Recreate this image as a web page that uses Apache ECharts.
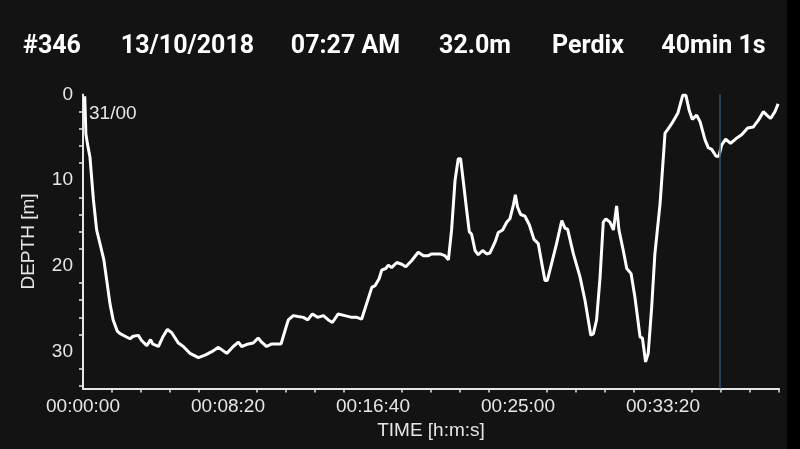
<!DOCTYPE html>
<html>
<head>
<meta charset="utf-8">
<script src="https://cdn.jsdelivr.net/npm/echarts@6/dist/echarts.min.js"></script>
<style>
html,body{margin:0;padding:0;background:#131313;}
#c{width:800px;height:449px;}
</style>
</head>
<body>
<div id="c"></div>
<script>
// ---- data ----
var headerTexts = ['#346', '13/10/2018', '07:27 AM', '32.0m', 'Perdix', '40min 1s'];
var markerText = '31/00';
var cursorTime = 2194;
var timeSec = [6,10,15,24,36,47,60,72,93,104,118,128,145,162,173,191,202,220,233,240,260,275,291,306,329,346,369,398,421,444,467,496,518,536,547,570,587,604,616,633,651,668,683,697,708,725,742,760,775,791,809,829,846,860,880,903,927,944,961,978,996,1007,1021,1030,1044,1053,1064,1082,1099,1113,1133,1156,1174,1191,1202,1214,1231,1248,1260,1271,1283,1294,1302,1311,1323,1332,1340,1352,1363,1378,1392,1403,1421,1432,1447,1461,1472,1484,1491,1498,1509,1524,1539,1555,1570,1582,1593,1601,1616,1633,1651,1662,1671,1691,1714,1731,1751,1760,1771,1783,1794,1803,1817,1829,1840,1848,1863,1875,1890,1903,1921,1929,1940,1949,1961,1972,1990,2007,2016,2030,2051,2068,2079,2090,2101,2116,2128,2145,2156,2168,2183,2193,2202,2216,2233,2250,2271,2292,2311,2329,2346,2358,2371,2386,2397];
var depthM = [0.2,4.6,5.7,7.3,12.3,15.8,17.6,19.3,24.4,26.3,27.6,27.9,28.2,28.5,28.2,28.1,28.7,29.3,28.6,29.1,29.4,28.3,27.4,27.8,29.0,29.4,30.2,30.7,30.4,30.0,29.5,30.2,29.4,28.9,29.4,29.1,29.0,28.4,28.9,29.4,29.1,29.1,29.1,27.5,26.3,25.8,25.9,26.0,26.3,25.6,26.0,25.8,26.3,26.6,25.6,25.8,26.0,26.0,26.2,24.4,22.5,22.3,21.5,20.5,20.3,19.9,20.2,19.6,19.8,20.1,19.4,18.4,18.8,18.8,18.6,18.6,18.6,18.8,19.3,15.8,10.0,7.5,7.5,10.0,13.5,16.0,16.3,18.2,18.7,18.2,18.6,18.5,17.2,16.1,15.8,14.9,14.5,12.9,11.7,13.1,14.0,14.2,15.2,16.9,17.4,19.7,21.7,21.7,19.7,17.4,14.7,15.6,15.7,18.6,21.3,24.0,28.1,27.9,26.3,21.3,14.9,14.5,14.9,15.8,13.0,15.8,18.2,20.3,20.9,23.6,28.3,28.4,31.2,30.2,24.8,18.6,12.7,4.5,4.1,3.4,2.2,0.1,0.1,1.8,2.9,2.4,3.2,5.3,6.2,6.4,7.2,7.2,5.9,5.2,5.7,5.2,4.7,3.9,3.8,3.0,2.0,2.4,2.8,2.0,1.1];
var xLabelValues = [0, 500, 1000, 1500, 2000];
var xTickValues = [100,200,300,400,600,700,800,900,1100,1200,1300,1400,1600,1700,1800,1900,2100,2200,2300,2400];
var yLabelValues = [0, 10, 20, 30];
var yTickValues = [2,4,6,8,12,14,16,18,22,24,26,28,32,34];

// ---- layout ----
var headerCenters = [52, 187.5, 345.5, 475, 588, 713.5];
var axisColor = '#e6e6e6';
var labelFont = 'Liberation Sans, Arial, sans-serif';

function pad(n){ return (n < 10 ? '0' : '') + n; }
function hms(v){
  v = Math.round(v);
  var h = Math.floor(v / 3600), m = Math.floor((v % 3600) / 60), s = v % 60;
  return pad(h) + ':' + pad(m) + ':' + pad(s);
}

var graphics = headerTexts.map(function(t, i){
  return {
    type: 'text', x: headerCenters[i], y: 46.5, silent: true,
    style: { text: t, fill: '#ffffff', font: 'bold 25px Roboto, sans-serif', textAlign: 'center', textVerticalAlign: 'middle' }
  };
});
graphics.push({
  type: 'text', x: 89, y: 113.5, silent: true,
  style: { text: markerText, fill: axisColor, font: '19px ' + labelFont, textAlign: 'left', textVerticalAlign: 'middle' }
});
graphics.push({
  type: 'rect', shape: { x: 787, y: 0, width: 13, height: 449 }, silent: true, z: 100,
  style: { fill: '#000000' }
});

var chart = echarts.init(document.getElementById('c'), null, { renderer: 'canvas' });
chart.setOption({
  backgroundColor: '#131313',
  animation: false,
  grid: { left: 83, right: 21, top: 94.5, bottom: 60.5 },
  xAxis: {
    type: 'value', min: 0, max: 2400, interval: 100,
    name: 'TIME [h:m:s]', nameLocation: 'middle', nameGap: 33,
    nameTextStyle: { color: axisColor, fontSize: 19, fontFamily: labelFont },
    axisLine: { show: true, onZero: false, lineStyle: { color: axisColor, width: 2 } },
    axisTick: { show: true, length: 4, customValues: xTickValues, lineStyle: { color: axisColor, width: 1.5 } },
    axisLabel: { customValues: xLabelValues, formatter: hms, color: axisColor, fontSize: 19, fontFamily: labelFont, margin: 9 },
    splitLine: { show: false }
  },
  yAxis: {
    type: 'value', inverse: true, min: 0, max: 34.3, interval: 10,
    name: 'DEPTH [m]', nameLocation: 'middle', nameGap: 45,
    nameTextStyle: { color: axisColor, fontSize: 19, fontFamily: labelFont },
    axisLine: { show: true, onZero: false, lineStyle: { color: axisColor, width: 2 } },
    axisTick: { show: true, length: 4, customValues: yTickValues, lineStyle: { color: axisColor, width: 1.5 } },
    axisLabel: { customValues: yLabelValues, color: axisColor, fontSize: 19, fontFamily: labelFont, margin: 10 },
    splitLine: { show: false }
  },
  series: [{
    type: 'line',
    data: timeSec.map(function(t, i){ return [t, depthM[i]]; }),
    showSymbol: false,
    lineStyle: { color: '#ffffff', width: 3 },
    markLine: {
      silent: true, symbol: 'none', label: { show: false },
      lineStyle: { color: '#34526f', width: 1.5, type: 'solid' },
      data: [{ xAxis: cursorTime }]
    }
  }],
  graphic: graphics
});
</script>
</body>
</html>
